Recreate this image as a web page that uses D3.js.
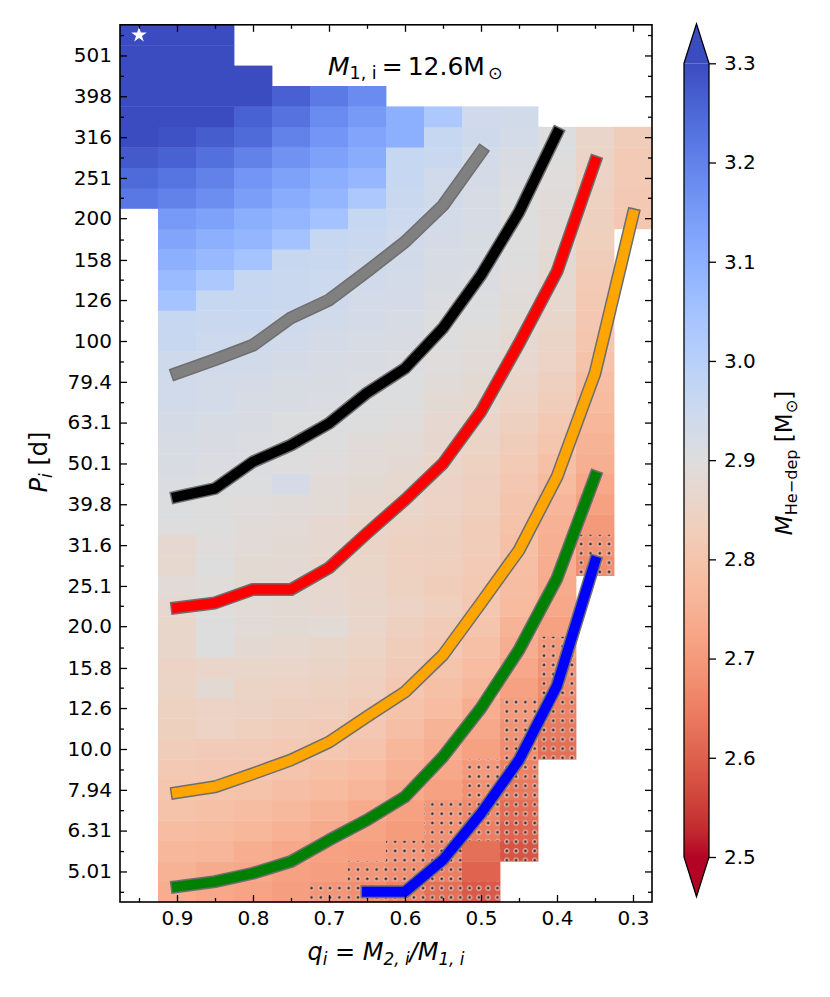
<!DOCTYPE html>
<html>
<head>
<meta charset="UTF-8">
<title>M He-dep grid</title>
<script src="https://cdn.jsdelivr.net/npm/d3@7"></script>
<style>
  body { margin: 0; background: #fff; }
  svg { font-family: "DejaVu Sans", sans-serif; }
</style>
</head>
<body>
<svg id="chart" width="830" height="997"></svg>
<script>
// cell rows: log10(P_i / d) at the centre of every row of the grid
const logPRows = [0.65, 0.70, 0.75, 0.80, 0.85, 0.90, 0.95, 1.00, 1.05, 1.10,
                  1.15, 1.20, 1.25, 1.30, 1.35, 1.40, 1.45, 1.50, 1.55, 1.60,
                  1.65, 1.70, 1.75, 1.80, 1.85, 1.90, 1.95, 2.00, 2.05, 2.10,
                  2.15, 2.20, 2.25, 2.30, 2.35, 2.40, 2.45, 2.50, 2.55, 2.60,
                  2.65, 2.70, 2.75];
// cell columns: q_i
const qColumns = [0.95, 0.90, 0.85, 0.80, 0.75, 0.70, 0.65, 0.60, 0.55, 0.50, 0.45, 0.40, 0.35, 0.30];
// index in logPRows of the lowest filled cell of each column
const firstRow = [34, 0, 0, 0, 0, 0, 0, 0, 0, 0, 2, 7, 16, 33];

// M_He-dep per column, from the lowest filled row upwards
const m095 = [3.22, 3.245, 3.275, 3.30, 3.30, 3.31, 3.30, 3.31, 3.31];
const m090 = [2.74, 2.75, 2.765, 2.78, 2.795, 2.805, 2.815, 2.83, 2.838, 2.845,
              2.853, 2.85, 2.863, 2.863, 2.873, 2.885, 2.87, 2.873, 2.9, 2.905,
              2.91, 2.915, 2.92, 2.925, 2.935, 2.94, 2.945, 2.96, 2.965, 3.045,
              3.07, 3.10, 3.125, 3.15, 3.20, 3.225, 3.26, 3.29, 3.30, 3.31,
              3.30, 3.31, 3.31];
const m085 = [2.73, 2.737, 2.76, 2.775, 2.79, 2.80, 2.81, 2.822, 2.85, 2.85,
              2.88, 2.86, 2.9, 2.9, 2.895, 2.893, 2.9, 2.895, 2.9, 2.9,
              2.905, 2.91, 2.915, 2.92, 2.93, 2.93, 2.94, 2.95, 2.955, 2.965,
              3.03, 3.075, 3.10, 3.135, 3.175, 3.20, 3.235, 3.27, 3.30, 3.31,
              3.30, 3.31, 3.31];
const m080 = [2.72, 2.73, 2.743, 2.765, 2.78, 2.795, 2.81, 2.822, 2.835, 2.848,
              2.853, 2.863, 2.877, 2.887, 2.883, 2.88, 2.88, 2.887, 2.89, 2.895,
              2.905, 2.91, 2.91, 2.915, 2.92, 2.925, 2.935, 2.945, 2.955, 2.96,
              2.965, 3.045, 3.085, 3.105, 3.14, 3.16, 3.20, 3.245, 3.26, 3.30,
              3.30];
const m075 = [2.71, 2.715, 2.73, 2.75, 2.77, 2.785, 2.80, 2.815, 2.83, 2.84,
              2.85, 2.86, 2.87, 2.88, 2.88, 2.878, 2.877, 2.88, 2.883, 2.89,
              2.925, 2.9, 2.905, 2.905, 2.915, 2.92, 2.925, 2.94, 2.945, 2.955,
              2.955, 2.96, 3.05, 3.085, 3.11, 3.135, 3.165, 3.20, 3.23, 3.264];
const m070 = [2.69, 2.71, 2.715, 2.737, 2.755, 2.775, 2.79, 2.81, 2.822, 2.835,
              2.845, 2.857, 2.863, 2.883, 2.873, 2.868, 2.865, 2.87, 2.873, 2.883,
              2.887, 2.895, 2.9, 2.905, 2.91, 2.915, 2.92, 2.925, 2.935, 2.945,
              2.95, 2.955, 2.965, 3.05, 3.085, 3.105, 3.135, 3.16, 3.18, 3.215];
const m065 = [2.677, 2.69, 2.71, 2.72, 2.735, 2.76, 2.777, 2.797, 2.81, 2.822,
              2.835, 2.845, 2.853, 2.86, 2.863, 2.86, 2.858, 2.857, 2.863, 2.87,
              2.88, 2.887, 2.89, 2.9, 2.905, 2.91, 2.915, 2.92, 2.925, 2.93,
              2.94, 2.945, 2.955, 2.965, 3.03, 3.08, 3.11, 3.125, 3.15, 3.18];
const m060 = [2.655, 2.677, 2.69, 2.705, 2.715, 2.737, 2.75, 2.765, 2.783, 2.795,
              2.81, 2.822, 2.83, 2.84, 2.85, 2.843, 2.842, 2.845, 2.853, 2.86,
              2.87, 2.877, 2.883, 2.895, 2.9, 2.905, 2.91, 2.915, 2.92, 2.925,
              2.93, 2.935, 2.94, 2.95, 2.955, 2.965, 2.965, 3.10, 3.10];
const m055 = [2.625, 2.65, 2.665, 2.68, 2.69, 2.715, 2.73, 2.743, 2.755, 2.777,
              2.79, 2.80, 2.815, 2.822, 2.835, 2.83, 2.835, 2.84, 2.845, 2.85,
              2.855, 2.86, 2.867, 2.873, 2.88, 2.89, 2.895, 2.9, 2.905, 2.91,
              2.915, 2.92, 2.925, 2.93, 2.935, 2.94, 2.955, 2.965, 3.03];
const m050 = [2.59, 2.605, 2.625, 2.65, 2.665, 2.68, 2.70, 2.715, 2.73, 2.743,
              2.765, 2.777, 2.79, 2.80, 2.81, 2.815, 2.82, 2.825, 2.83, 2.835,
              2.84, 2.845, 2.853, 2.86, 2.87, 2.88, 2.885, 2.893, 2.9, 2.905,
              2.91, 2.915, 2.918, 2.92, 2.92, 2.925, 2.93, 2.945, 2.94];
const m045 = [2.58, 2.605, 2.62, 2.64, 2.655, 2.673, 2.685, 2.70, 2.715, 2.73,
              2.743, 2.755, 2.775, 2.78, 2.785, 2.79, 2.795, 2.80, 2.81, 2.82,
              2.83, 2.84, 2.85, 2.86, 2.868, 2.876, 2.883, 2.89, 2.895, 2.9,
              2.9, 2.9, 2.905, 2.91, 2.915, 2.93, 2.935];
const m040 = [2.625, 2.64, 2.655, 2.672, 2.685, 2.70, 2.715, 2.73, 2.735, 2.74,
              2.745, 2.75, 2.76, 2.775, 2.79, 2.805, 2.815, 2.83, 2.84, 2.85,
              2.857, 2.863, 2.87, 2.875, 2.88, 2.883, 2.887, 2.89, 2.895, 2.9, 2.905];
const m035 = [2.675, 2.685, 2.70, 2.715, 2.73, 2.745, 2.755, 2.765, 2.775, 2.785,
              2.795, 2.805, 2.81, 2.815, 2.82, 2.83, 2.835, 2.84, 2.845, 2.85, 2.855, 2.86];
const m030 = [2.81, 2.815, 2.82, 2.82, 2.83];
const columnValues = [m095, m090, m085, m080, m075, m070, m065, m060, m055, m050, m045, m040, m035, m030];

// cells drawn with the hatch, as indices into logPRows
const hatchedRows = [[], [], [], [], [], [0], [0, 1], [0, 1, 2], [0, 1, 2, 3, 4],
                     [0, 3, 4, 5, 6], [2, 3, 4, 5, 6, 7, 8, 9], [7, 8, 9, 10, 11, 12], [16, 17], []];

// overlaid tracks, P_i in days
const qGray = [0.90, 0.85, 0.80, 0.75, 0.70, 0.65, 0.60, 0.55, 0.50];
const pGray = [83.4, 90.0, 97.7, 114, 126, 148, 175, 215, 290];
const qBlack = [0.90, 0.85, 0.80, 0.75, 0.70, 0.65, 0.60, 0.55, 0.50, 0.45, 0.40];
const pBlack = [41.5, 43.5, 50.6, 55.6, 62.8, 74.6, 85.7, 107.6, 145, 207, 323];
const qRed = [0.90, 0.85, 0.80, 0.75, 0.70, 0.65, 0.60, 0.55, 0.50, 0.45, 0.40, 0.35];
const pRed = [22.2, 22.8, 24.6, 24.6, 27.8, 33.8, 40.8, 50.1, 67.2, 98.6, 148, 275];
const qOrange = [0.90, 0.85, 0.80, 0.75, 0.70, 0.65, 0.60, 0.55, 0.50, 0.45, 0.40, 0.35, 0.30];
const pOrange = [7.82, 8.08, 8.70, 9.40, 10.4, 12.0, 13.8, 17.0, 22.8, 30.7, 46.5, 83.4, 204];
const qGreen = [0.90, 0.85, 0.80, 0.75, 0.70, 0.65, 0.60, 0.55, 0.50, 0.45, 0.40, 0.35];
const pGreen = [4.60, 4.73, 4.96, 5.30, 5.98, 6.70, 7.64, 9.57, 12.6, 17.5, 26.2, 46.5];
const qBlue = [0.65, 0.60, 0.55, 0.50, 0.45, 0.40, 0.35];
const pBlue = [4.47, 4.47, 5.35, 6.95, 9.40, 14.3, 28.8];

const yTickValues = [5.01, 6.31, 7.94, 10.0, 12.6, 15.8, 20.0, 25.1, 31.6, 39.8, 50.1,
                     63.1, 79.4, 100, 126, 158, 200, 251, 316, 398, 501];
const yTickLabels = ["5.01", "6.31", "7.94", "10.0", "12.6", "15.8", "20.0", "25.1", "31.6", "39.8", "50.1",
                     "63.1", "79.4", "100", "126", "158", "200", "251", "316", "398", "501"];
const xTickValues = [0.9, 0.8, 0.7, 0.6, 0.5, 0.4, 0.3];
const xMinorValues = [0.95, 0.85, 0.75, 0.65, 0.55, 0.45, 0.35];
const cbarTicks = [2.5, 2.6, 2.7, 2.8, 2.9, 3.0, 3.1, 3.2, 3.3];

// coolwarm colour table (33 stops), used reversed: high values blue
const coolwarm = [[59,76,192],[68,90,204],[77,104,215],[87,117,225],[98,130,234],[108,142,241],
  [119,154,247],[130,165,251],[141,176,254],[152,185,255],[163,194,255],[174,201,253],
  [184,208,249],[194,213,244],[204,217,238],[213,219,230],[221,221,221],[229,216,209],
  [236,211,197],[241,204,184],[245,196,172],[247,187,160],[247,177,148],[247,166,135],
  [244,154,123],[241,141,111],[236,127,99],[229,112,88],[222,96,77],[213,80,66],
  [203,62,56],[192,40,47],[180,4,38]].map(c => d3.rgb(c[0], c[1], c[2]).formatHex());
const vmin = 2.5, vmax = 3.3;
const cmap = d3.scaleLinear()
  .domain(coolwarm.map((c, i) => vmax - (vmax - vmin) * i / (coolwarm.length - 1)))
  .range(coolwarm)
  .interpolate(d3.interpolateRgb)
  .clamp(true);

const svg = d3.select("#chart");
const L = 120, R = 652, T = 24.8, B = 902;
const x = d3.scaleLinear().domain([0.975, 0.275]).range([L, R]);
const y = d3.scaleLog().domain([Math.pow(10, 0.625), Math.pow(10, 2.775)]).range([B, T]);
const halfQ = 0.025, halfLogP = 0.025;

const defs = svg.append("defs");
const hatch = defs.append("pattern").attr("id", "hatch")
  .attr("patternUnits", "userSpaceOnUse").attr("width", 9.3).attr("height", 9.3);
hatch.append("circle").attr("cx", 4.6).attr("cy", 4.6).attr("r", 2.1)
  .attr("fill", "#5a2c24").attr("stroke", "#e2c3ba").attr("stroke-width", 1.2);

// cells
const cells = [];
columnValues.forEach((vals, ci) => {
  vals.forEach((v, k) => {
    const ri = firstRow[ci] + k;
    cells.push({ q: qColumns[ci], lp: logPRows[ri], v: v, hatched: hatchedRows[ci].includes(ri) });
  });
});
const gCells = svg.append("g");
gCells.selectAll("rect.cell").data(cells).enter().append("rect")
  .attr("class", "cell")
  .attr("x", d => x(d.q + halfQ))
  .attr("y", d => y(Math.pow(10, d.lp + halfLogP)))
  .attr("width", d => x(d.q - halfQ) - x(d.q + halfQ) + 0.4)
  .attr("height", d => y(Math.pow(10, d.lp - halfLogP)) - y(Math.pow(10, d.lp + halfLogP)) + 0.4)
  .attr("fill", d => cmap(d.v));
gCells.selectAll("rect.hatch").data(cells.filter(d => d.hatched)).enter().append("rect")
  .attr("class", "hatch")
  .attr("x", d => x(d.q + halfQ))
  .attr("y", d => y(Math.pow(10, d.lp + halfLogP)))
  .attr("width", d => x(d.q - halfQ) - x(d.q + halfQ))
  .attr("height", d => y(Math.pow(10, d.lp - halfLogP)) - y(Math.pow(10, d.lp + halfLogP)))
  .attr("fill", "url(#hatch)");

// tracks
const tracks = [
  { q: qGray, p: pGray, color: "#808080" },
  { q: qBlack, p: pBlack, color: "#000000" },
  { q: qRed, p: pRed, color: "#ff0000" },
  { q: qOrange, p: pOrange, color: "#ffa500" },
  { q: qGreen, p: pGreen, color: "#008000" },
  { q: qBlue, p: pBlue, color: "#0000ff" }
];
const line = d3.line().x(d => x(d[0])).y(d => y(d[1]));
const gTracks = svg.append("g");
tracks.forEach(t => {
  const pts = t.q.map((q, i) => [q, t.p[i]]);
  gTracks.append("path").attr("d", line(pts)).attr("fill", "none")
    .attr("stroke", "#6e6e6e").attr("stroke-width", 13)
    .attr("stroke-linecap", "square").attr("stroke-linejoin", "round");
  gTracks.append("path").attr("d", line(pts)).attr("fill", "none")
    .attr("stroke", t.color).attr("stroke-width", 10)
    .attr("stroke-linecap", "square").attr("stroke-linejoin", "round");
});

// star marker
svg.append("path")
  .attr("d", d3.symbol(d3.symbolStar, 75)())
  .attr("transform", `translate(${x(0.95)},${y(Math.pow(10, 2.75))})`)
  .attr("fill", "#fff");

// frame and ticks (pointing in, on all four sides)
const fontSize = 20;
const yMinor = [Math.pow(10, 0.65)].concat(yTickValues.map(v => Math.pow(10, Math.log10(v) + 0.05)));
function styleAxis(g) {
  g.select(".domain").remove();
  g.selectAll(".tick line").attr("stroke", "#000").attr("stroke-width", 1.3);
  g.selectAll("text").attr("font-size", fontSize).attr("fill", "#000")
    .attr("font-family", "DejaVu Sans");
}
svg.append("g").attr("transform", `translate(${L},0)`)
  .call(d3.axisLeft(y).tickValues(yTickValues).tickFormat((d, i) => yTickLabels[i]).tickSize(-7).tickPadding(8))
  .call(styleAxis);
svg.append("g").attr("transform", `translate(${L},0)`)
  .call(d3.axisLeft(y).tickValues(yMinor).tickFormat("").tickSize(-4)).call(styleAxis);
svg.append("g").attr("transform", `translate(${R},0)`)
  .call(d3.axisRight(y).tickValues(yTickValues).tickFormat("").tickSize(-7)).call(styleAxis);
svg.append("g").attr("transform", `translate(${R},0)`)
  .call(d3.axisRight(y).tickValues(yMinor).tickFormat("").tickSize(-4)).call(styleAxis);
svg.append("g").attr("transform", `translate(0,${B})`)
  .call(d3.axisBottom(x).tickValues(xTickValues).tickFormat(d3.format(".1f")).tickSize(-7).tickPadding(9))
  .call(styleAxis);
svg.append("g").attr("transform", `translate(0,${B})`)
  .call(d3.axisBottom(x).tickValues(xMinorValues).tickFormat("").tickSize(-4)).call(styleAxis);
svg.append("g").attr("transform", `translate(0,${T})`)
  .call(d3.axisTop(x).tickValues(xTickValues).tickFormat("").tickSize(-7)).call(styleAxis);
svg.append("g").attr("transform", `translate(0,${T})`)
  .call(d3.axisTop(x).tickValues(xMinorValues).tickFormat("").tickSize(-4)).call(styleAxis);
svg.append("rect").attr("x", L).attr("y", T).attr("width", R - L).attr("height", B - T)
  .attr("fill", "none").attr("stroke", "#000").attr("stroke-width", 1.6);

// mathtext-like labels
function mathText(parent, parts, size) {
  parts.forEach(p => {
    const sub = p.sub === true;
    parent.append("tspan")
      .attr("font-size", sub ? size * 0.7 : size)
      .attr("font-style", p.it ? "italic" : "normal")
      .attr("dx", p.dx || 0)
      .attr("dy", p.dy || 0)
      .text(p.t);
  });
}
const title = svg.append("text").attr("x", 328).attr("y", 75);
mathText(title, [
  { t: "M", it: true }, { t: "1, i", sub: true, dy: 4 },
  { t: "\u2009=\u200912.6M", dy: -4 }, { t: "\u2299", sub: true, dy: 4, dx: 3 }
], 25);

const ylab = svg.append("text").attr("transform", "translate(47,462) rotate(-90)")
  .attr("text-anchor", "middle");
mathText(ylab, [{ t: "P", it: true }, { t: "i", it: true, sub: true, dy: 5 }, { t: " [d]", dy: -5 }], 24);

const xlab = svg.append("text").attr("x", (L + R) / 2).attr("y", 960).attr("text-anchor", "middle");
mathText(xlab, [
  { t: "q", it: true }, { t: "i", it: true, sub: true, dy: 5 },
  { t: " = ", dy: -5 }, { t: "M", it: true }, { t: "2, i", it: true, sub: true, dy: 5 },
  { t: "/M", it: true, dy: -5 }, { t: "1, i", it: true, sub: true, dy: 5 }
], 24);

// colorbar
const cbL = 684, cbR = 709, cbTop = 63.3, cbBot = 857, ext = 39.5;
const cy = d3.scaleLinear().domain([vmin, vmax]).range([cbBot, cbTop]);
const grad = defs.append("linearGradient").attr("id", "cbgrad")
  .attr("x1", 0).attr("y1", 0).attr("x2", 0).attr("y2", 1);
coolwarm.forEach((c, i) => grad.append("stop")
  .attr("offset", i / (coolwarm.length - 1)).attr("stop-color", c));
svg.append("rect").attr("x", cbL).attr("y", cbTop).attr("width", cbR - cbL).attr("height", cbBot - cbTop)
  .attr("fill", "url(#cbgrad)");
const cbMid = (cbL + cbR) / 2;
svg.append("path").attr("d", `M${cbL},${cbTop}L${cbMid},${cbTop - ext}L${cbR},${cbTop}Z`).attr("fill", coolwarm[0]);
svg.append("path").attr("d", `M${cbL},${cbBot}L${cbMid},${cbBot + ext}L${cbR},${cbBot}Z`)
  .attr("fill", coolwarm[coolwarm.length - 1]);
svg.append("path")
  .attr("d", `M${cbL},${cbTop}L${cbMid},${cbTop - ext}L${cbR},${cbTop}L${cbR},${cbBot}L${cbMid},${cbBot + ext}L${cbL},${cbBot}Z`)
  .attr("fill", "none").attr("stroke", "#000").attr("stroke-width", 1.3);
svg.append("g").attr("transform", `translate(${cbR},0)`)
  .call(d3.axisRight(cy).tickValues(cbarTicks).tickFormat(d3.format(".1f")).tickSize(7).tickPadding(8))
  .call(styleAxis);

const cblab = svg.append("text").attr("transform", "translate(792,463) rotate(-90)")
  .attr("text-anchor", "middle");
mathText(cblab, [
  { t: "M", it: true }, { t: "He\u2212dep", sub: true, dy: 5 },
  { t: "  [M", dy: -5 }, { t: "\u2299", sub: true, dy: 5 }, { t: "]", dy: -5 }
], 23);
</script>
</body>
</html>
